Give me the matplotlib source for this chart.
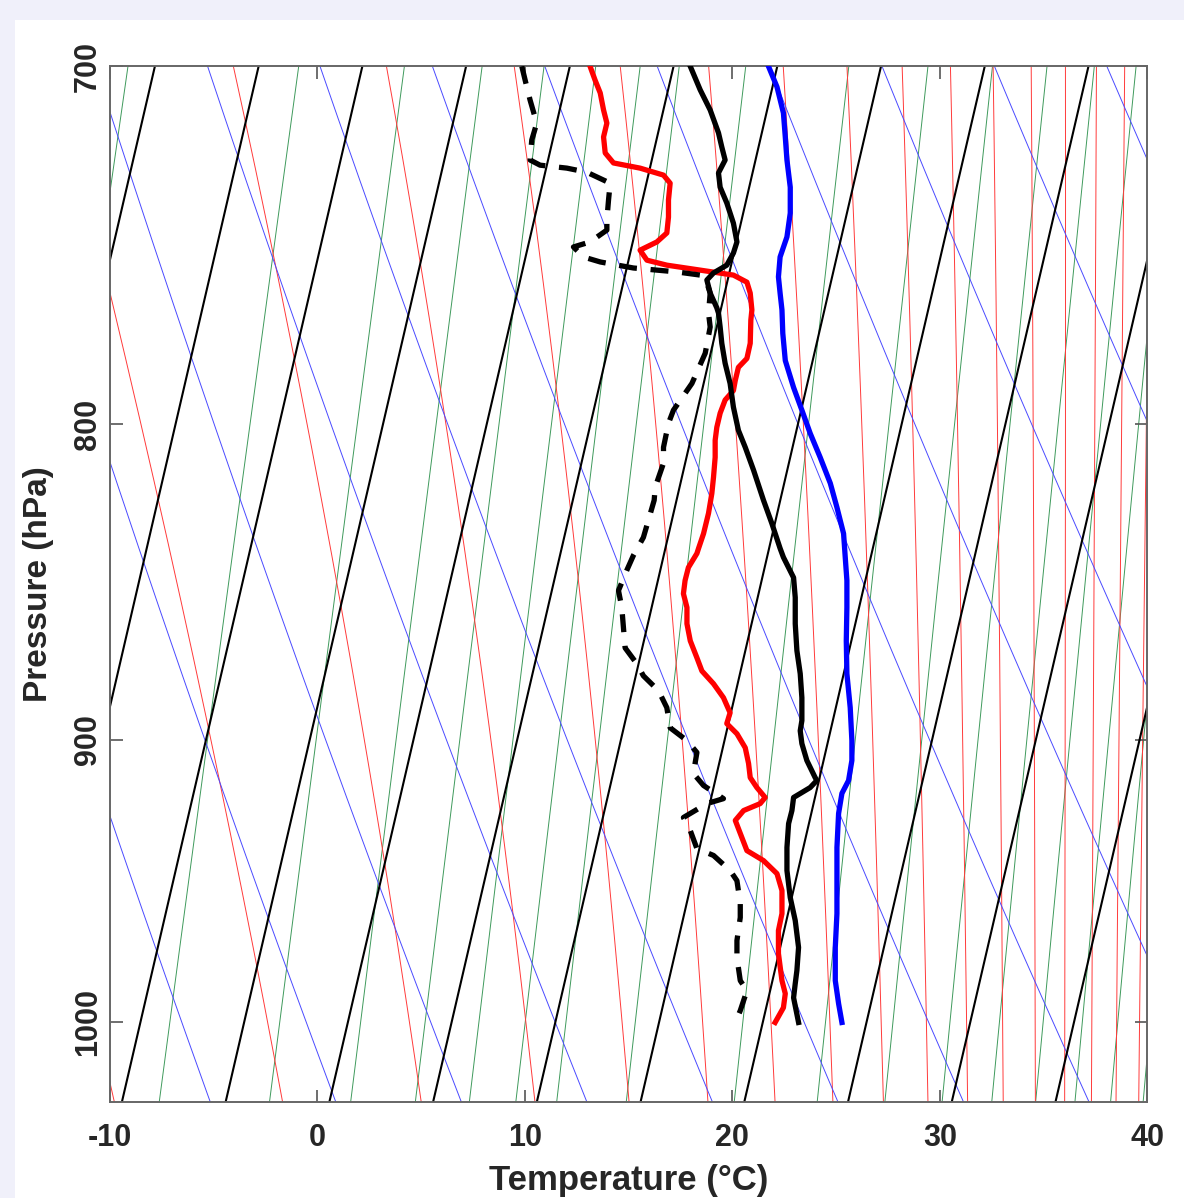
import numpy as np
import matplotlib
matplotlib.use("Agg")
import matplotlib.pyplot as plt
from matplotlib.patches import Rectangle

# ---------------- data (pressure in hPa, x = skewed temperature-axis value) -------------
red_p = [700, 703.6, 707.0, 711.5, 715.0, 718.7, 723.0, 725.7, 727.1, 729.0, 731.2, 735.8,
         740.5, 744.9, 747.4, 749.7, 752.5, 753.9, 755.3, 756.7, 758.7, 761.8, 766.6, 769.5,
         776.2, 780.6, 783.2, 787.0, 790.0, 792.8, 796.7, 800.9, 804.8, 809.9, 816.0, 820.9,
         827.0, 833.3, 837.9, 839.5, 843.9, 848.0, 852.2, 856.6, 861.8, 867.3, 872.8, 877.1,
         881.3, 885.9, 890.9, 894.5, 897.9, 902.6, 907.9, 912.7, 916.1, 919.5, 921.6, 924.0,
         927.4, 931.9, 937.9, 941.4, 946.0, 952.0, 960.2, 966.3, 974.6, 984.5, 989.3, 994.5, 1000]
red_x = [13.14, 13.38, 13.63, 13.79, 13.95, 13.79, 13.87, 14.27, 15.55, 16.68, 17.00, 16.92,
         16.92, 16.84, 16.36, 15.55, 15.88, 16.84, 18.45, 20.05, 20.70, 20.86, 20.94, 20.89,
         20.86, 20.70, 20.29, 20.14, 20.05, 19.65, 19.41, 19.25, 19.17, 19.17, 19.09, 19.01,
         18.85, 18.61, 18.37, 18.29, 17.88, 17.72, 17.64, 17.81, 17.81, 17.97, 18.29, 18.53,
         19.09, 19.57, 19.89, 19.73, 20.22, 20.62, 20.78, 20.86, 21.18, 21.58, 21.34, 20.54,
         20.14, 20.38, 20.70, 21.50, 22.15, 22.39, 22.39, 22.22, 22.22, 22.39, 22.55, 22.46, 22.06]

temp_p = [700, 706.2, 711.5, 717.6, 721.4, 724.9, 728.4, 732.3, 736.6, 742.2, 747.4, 750.5,
          753.9, 756.1, 758.1, 761.8, 766.0, 767.5, 771.5, 776.2, 782.0, 787.9, 794.9, 801.8,
          806.9, 813.8, 823.0, 830.1, 837.9, 840.7, 847.1, 853.4, 861.8, 870.5, 878.0, 885.9,
          893.5, 896.9, 901.2, 906.9, 912.7, 913.7, 916.1, 919.5, 924.0, 928.5, 936.8, 944.9,
          954.5, 962.7, 972.4, 980.8, 985.6, 990.8, 1000]
temp_x = [17.97, 18.45, 18.93, 19.33, 19.49, 19.65, 19.33, 19.41, 19.73, 20.05, 20.22, 20.05,
          19.73, 19.09, 18.77, 18.93, 19.25, 19.33, 19.41, 19.49, 19.65, 19.89, 20.05, 20.29,
          20.62, 21.02, 21.50, 21.90, 22.30, 22.46, 22.95, 23.03, 23.03, 23.11, 23.27, 23.35,
          23.35, 23.27, 23.35, 23.59, 23.99, 24.07, 23.75, 22.95, 22.87, 22.71, 22.63, 22.63,
          22.79, 23.03, 23.19, 23.11, 23.03, 22.95, 23.19]

dew_p = [700, 703.6, 708.9, 715.0, 719.5, 724.9, 726.3, 727.1, 728.2, 731.2, 735.8, 741.3,
         744.1, 747.4, 748.8, 751.6, 753.0, 754.7, 755.8, 756.7, 758.9, 761.8, 767.5, 771.5,
         779.1, 787.9, 795.8, 799.7, 806.9, 811.7, 819.0, 823.0, 829.2, 834.5, 840.1, 844.8,
         851.2, 856.6, 863.1, 869.6, 874.8, 878.7, 883.6, 889.2, 895.9, 900.2, 904.2, 911.3,
         915.4, 919.9, 921.6, 926.4, 930.9, 937.2, 939.6, 944.9, 948.5, 956.6, 961.6, 969.9,
         976.1, 984.5, 988.2, 995.6, 1000]
dew_x = [9.85, 10.01, 10.25, 10.57, 10.33, 10.25, 10.73, 12.02, 12.98, 14.11, 14.03, 13.95,
         13.95, 13.14, 12.34, 12.82, 13.63, 15.23, 17.32, 18.45, 18.77, 18.93, 18.85, 18.93,
         18.69, 18.05, 17.16, 16.92, 16.68, 16.68, 16.28, 16.23, 15.95, 15.71, 15.23, 14.91,
         14.51, 14.67, 14.75, 14.83, 15.40, 15.71, 16.44, 16.84, 17.00, 17.81, 18.29, 18.12,
         18.61, 19.57, 18.77, 17.64, 17.97, 18.29, 19.09, 19.89, 20.22, 20.38, 20.38, 20.22,
         20.22, 20.38, 20.70, 20.38, 20.14]

blue_p = [700, 705.4, 712.3, 718.7, 724.9, 732.3, 739.4, 746.0, 751.6, 757.2, 761.8, 766.6,
          773.3, 781.2, 789.1, 795.8, 802.7, 809.9, 817.8, 825.2, 833.3, 840.7, 848.0, 856.6,
          867.3, 878.0, 889.2, 900.2, 906.9, 913.7, 918.1, 925.0, 936.8, 948.5, 960.2, 972.4,
          984.5, 993.0, 1000]
blue_x = [21.74, 22.15, 22.46, 22.55, 22.63, 22.79, 22.79, 22.63, 22.30, 22.22, 22.30, 22.39,
          22.43, 22.55, 22.95, 23.35, 23.75, 24.23, 24.72, 25.04, 25.36, 25.44, 25.52, 25.52,
          25.49, 25.52, 25.68, 25.76, 25.76, 25.60, 25.28, 25.12, 25.04, 25.04, 25.04, 24.96,
          24.96, 25.12, 25.28]

x_ticks = [-10, 0, 10, 20, 30, 40]
p_ticks = [700, 800, 900, 1000]

isotherm_c = np.arange(-100, 55, 5)           # black skewed isotherms
dry_theta_c = np.arange(-50, 130, 6)          # blue dry adiabats (theta, degC)
moist_thetae_c = np.arange(-8, 270, 12)       # red moist adiabats (theta-e, degC)
mix_ratio_gkg = [1, 2, 3, 4, 5, 6, 7, 8, 10, 14, 18, 22, 26, 30, 34, 38, 42, 46, 50, 54]

SKEW = 30.0
P_REF = 1050.0
P_TOP, P_BOT = 700, 1030

# ---------------- thermodynamics ----------------
def skew(T_c, p):
    return T_c + SKEW * np.log(P_REF / p)

def esat(Tc):
    return 6.112 * np.exp(17.67 * Tc / (Tc + 243.5))

def theta_e(Tk, p):
    es = esat(Tk - 273.15)
    r = 622.0 * es / (p - es)
    return Tk * (1000.0 / p) ** (0.2854 * (1 - 0.28e-3 * r)) * \
        np.exp((3.376 / Tk - 0.00254) * r * (1 + 0.81e-3 * r))

def moist_T(the_k, p):
    lo = np.full_like(p, 180.0)
    hi = np.full_like(p, 345.0)
    for _ in range(60):
        mid = 0.5 * (lo + hi)
        f = theta_e(mid, p) - the_k
        hi = np.where(f > 0, mid, hi)
        lo = np.where(f > 0, lo, mid)
    return 0.5 * (lo + hi) - 273.15

pg = np.exp(np.linspace(np.log(680), np.log(1045), 300))

# ---------------- figure ----------------
W, H = 1184, 1198
fig = plt.figure(figsize=(W / 100, H / 100), dpi=100)
fig.patch.set_facecolor("#f0f0fa")
fig.add_artist(Rectangle((15 / W, 0), 1, 1 - 20 / H, transform=fig.transFigure,
                         facecolor="white", edgecolor="none", zorder=-10))

ax = fig.add_axes([110 / W, 1 - 1101.7 / H, (1147.3 - 110) / W, (1101.7 - 66.3) / H])
ax.set_facecolor("white")

for w in mix_ratio_gkg:
    e = w * pg / (622.0 + w)
    lne = np.log(e / 6.112)
    Td = 243.5 * lne / (17.67 - lne)
    ax.plot(skew(Td, pg), pg, color="#3f9a5c", lw=0.7, zorder=1)

for th in moist_thetae_c:
    T = moist_T(th + 273.15, pg)
    ax.plot(skew(T, pg), pg, color="#ff3a3a", lw=0.7, zorder=1)

for th in dry_theta_c:
    T = (th + 273.15) * (pg / 1000.0) ** 0.286 - 273.15
    ax.plot(skew(T, pg), pg, color="#4a4aff", lw=0.7, zorder=1)

for t in isotherm_c:
    ax.plot(skew(np.full_like(pg, t, dtype=float), pg), pg, color="black", lw=1.5, zorder=2)

ax.plot(blue_x, blue_p, color="#0000ff", lw=3.8, zorder=5, solid_joinstyle="round")
ax.plot(red_x, red_p, color="#ff0000", lw=3.8, zorder=5, solid_joinstyle="round")
ax.plot(temp_x, temp_p, color="black", lw=3.8, zorder=6, solid_joinstyle="round")
ax.plot(dew_x, dew_p, color="black", lw=3.8, zorder=6, linestyle=(0, (3.4, 2.6)))

ax.set_yscale("log")
ax.set_ylim(P_BOT, P_TOP)
ax.set_xlim(-10, 40)
ax.minorticks_off()
ax.set_yticks(p_ticks)
ax.set_xticks(x_ticks)

font = dict(family="Liberation Sans", weight="bold")
ax.set_xticklabels([str(v) for v in x_ticks], fontsize=22, **font)
ax.set_yticklabels([str(v) for v in p_ticks], fontsize=22, rotation=90, va="center", **font)
ax.tick_params(axis="both", which="both", direction="in", length=9, width=1.2,
               colors="#555555", top=True, right=True, labelcolor="#262626")
ax.tick_params(axis="x", pad=15)
ax.tick_params(axis="y", pad=5)
for s in ax.spines.values():
    s.set_color("#666666")
    s.set_linewidth(1.4)

ax.set_xlabel("Temperature (\u00b0C)", fontsize=25, color="#262626", labelpad=8, **font)
ax.set_ylabel("Pressure (hPa)", fontsize=24, color="#262626", labelpad=14, **font)

fig.savefig("out.png", dpi=100, facecolor=fig.get_facecolor())
